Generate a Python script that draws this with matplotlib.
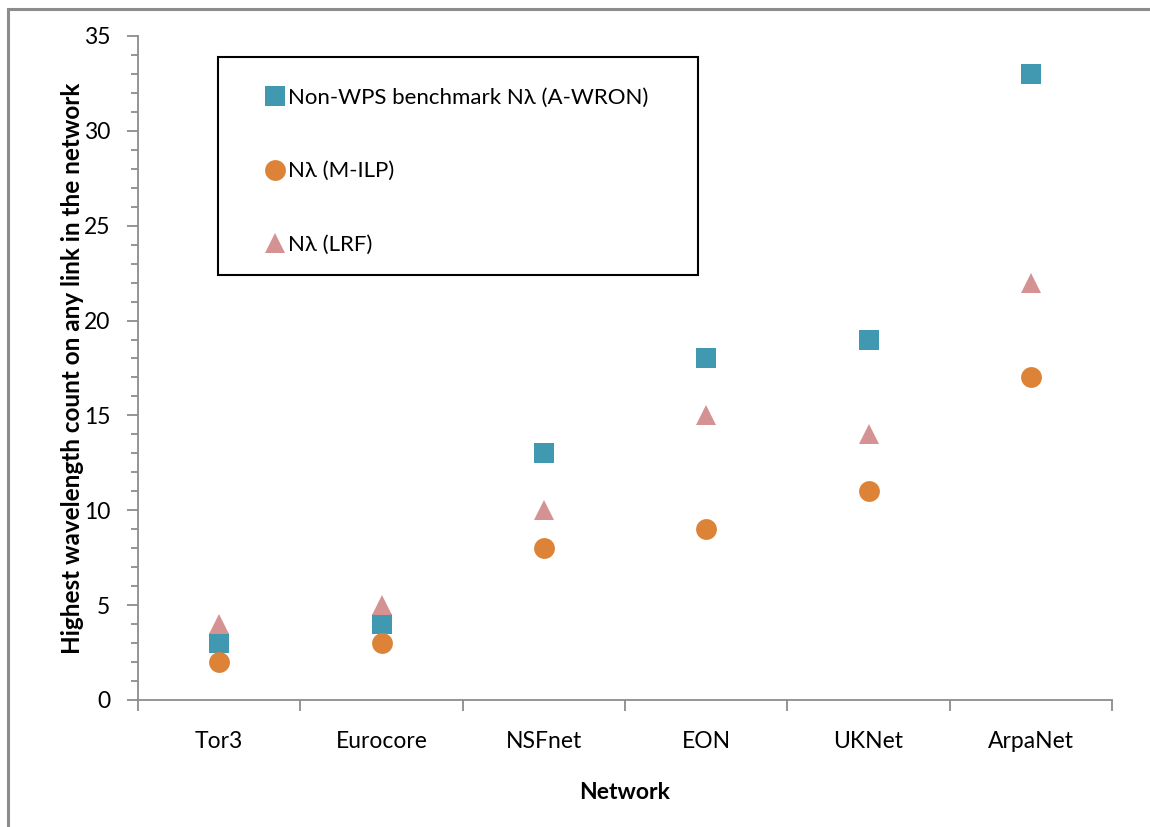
import numpy as np
from matplotlib import pyplot as plt
from matplotlib.patches import Rectangle
from matplotlib.ticker import MultipleLocator

networks = ["Tor3", "Eurocore", "NSFnet", "EON", "UKNet", "ArpaNet"]
non_wps = [3, 4, 13, 18, 19, 33]
milp = [2, 3, 8, 9, 11, 17]
lrf = [4, 5, 10, 15, 14, 22]

plt.rcParams['font.family'] = ['Lato', 'DejaVu Sans']

fig = plt.figure(figsize=(11.5, 8.27), dpi=100)
ax = fig.add_axes([0.12, 0.1536, 0.847, 0.8029])

# outer chart frame (only top/left visible in the reference)
fig.patches.append(Rectangle((8 / 1150, -0.1), 1.2, 1 - 9 / 827 + 0.1, transform=fig.transFigure,
                             fill=False, edgecolor='#8c8c8c', linewidth=2.2))

x = np.arange(len(networks))
ax.plot(x, non_wps, 's', color='#4198b1', markersize=14.5, markeredgewidth=0,
        label='Non-WPS benchmark Nλ (A-WRON)')
ax.plot(x, milp, 'o', color='#dd8338', markersize=15, markeredgewidth=0, label='Nλ (M-ILP)')
ax.plot(x, lrf, '^', color='#d49292', markersize=15, markeredgewidth=0, label='Nλ (LRF)')

ax.set_xlim(-0.5, len(networks) - 0.5)
ax.set_ylim(0, 35)

ax.yaxis.set_major_locator(MultipleLocator(5))
ax.yaxis.set_minor_locator(MultipleLocator(1))
ax.tick_params(axis='y', which='major', length=8, width=1.3, color='#8c8c8c', labelsize=16.5, pad=12)
ax.tick_params(axis='y', which='minor', length=5, width=1.3, color='#8c8c8c')

ax.set_xticks(x)
ax.set_xticklabels(networks)
ax.set_xticks(np.arange(len(networks) + 1) - 0.5, minor=True)
ax.tick_params(axis='x', which='major', length=0, labelsize=16.5, pad=22)
ax.tick_params(axis='x', which='minor', length=8, width=1.3, color='#8c8c8c')

for s in ['top', 'right']:
    ax.spines[s].set_visible(False)
for s in ['left', 'bottom']:
    ax.spines[s].set_color('#8c8c8c')
    ax.spines[s].set_linewidth(1.3)

ax.set_xlabel('Network', fontsize=16.5, fontweight='bold', labelpad=22)
ax.set_ylabel('Highest wavelength count on any link in the network', fontsize=17.5,
              fontweight='bold', labelpad=0)

# legend box
ax.add_patch(Rectangle(((218 - 138) / 974, (700 - 275) / 664), 480 / 974, 218 / 664,
                       transform=ax.transAxes, fill=False, edgecolor='black', linewidth=1.5, zorder=5))
ax.legend(loc='upper left', bbox_to_anchor=((268 - 138) / 974, (700 - 88) / 664), frameon=False,
          fontsize=16, labelspacing=2.4, handlelength=0.6, handletextpad=0.3, borderpad=0,
          borderaxespad=0)

fig.savefig('out.png', dpi=100)
